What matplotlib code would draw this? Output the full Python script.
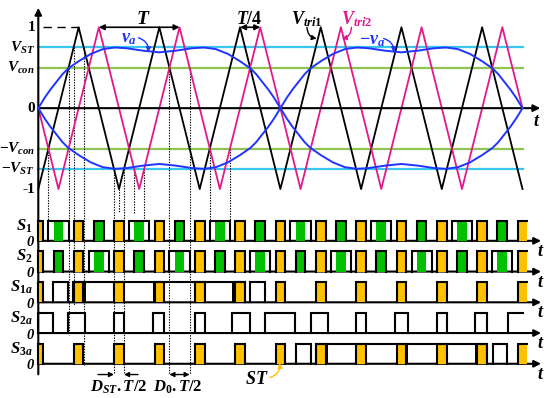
import matplotlib.pyplot as plt
from matplotlib.patches import Rectangle

plt.rcParams['font.family'] = 'Liberation Serif'
plt.rcParams['font.weight'] = 'bold'
plt.rcParams['mathtext.fontset'] = 'custom'
plt.rcParams['mathtext.it'] = 'Liberation Serif:italic:bold'
plt.rcParams['mathtext.rm'] = 'Liberation Serif:bold'
plt.rcParams['mathtext.bf'] = 'Liberation Serif:bold'

# time is in carrier periods T
tri1_t = [0, 0.5, 1, 1.5, 2, 2.5, 3, 3.5, 4, 4.5, 5, 5.5, 6]
tri1_v = [-1, 1, -1, 1, -1, 1, -1, 1, -1, 1, -1, 1, -1]
tri2_t = [0, 0.25, 0.75, 1.25, 1.75, 2.25, 2.75, 3.25, 3.75, 4.25, 4.75, 5.25, 5.75, 6]
tri2_v = [0, -1, 1, -1, 1, -1, 1, -1, 1, -1, 1, -1, 1, 0]

# positive half of v_a
va_t = [0, 0.08, 0.15, 0.3, 0.37, 0.5, 0.65, 0.8, 0.95, 1.1, 1.3, 1.5,
        1.7, 1.9, 2.05, 2.2, 2.35, 2.5, 2.63, 2.7, 2.85, 2.92, 3.0]
va_v = [0, 0.13, 0.23, 0.42, 0.49, 0.58, 0.67, 0.73, 0.75, 0.74, 0.71, 0.69,
        0.71, 0.74, 0.75, 0.73, 0.67, 0.58, 0.49, 0.42, 0.23, 0.13, 0]

V_ST = 0.75
V_CON = 0.5

# pulse patterns (start, end) in T
st_boxes = [(0, 0.06), (0.44, 0.56), (0.94, 1.06), (1.44, 1.56), (1.94, 2.06),
            (2.44, 2.56), (2.94, 3.06), (3.44, 3.56), (3.94, 4.06), (4.44, 4.56),
            (4.94, 5.06), (5.44, 5.56), (5.94, 6.06)]
green_boxes = [(0.19, 0.31), (0.69, 0.81), (1.19, 1.31), (1.69, 1.81), (2.19, 2.31),
               (2.69, 2.81), (3.19, 3.31), (3.69, 3.81), (4.19, 4.31), (4.69, 4.81),
               (5.19, 5.31), (5.69, 5.81)]
s1_high = [(0.125, 0.375), (0.69, 0.81), (1.125, 1.375), (1.69, 1.81), (2.125, 2.375),
           (2.69, 2.81), (3.125, 3.375), (3.69, 3.81), (4.125, 4.375), (4.69, 4.81),
           (5.125, 5.375), (5.69, 5.81)]
s2_high = [(0.19, 0.31), (0.625, 0.875), (1.19, 1.31), (1.625, 1.875), (2.19, 2.31),
           (2.625, 2.875), (3.19, 3.31), (3.625, 3.875), (4.19, 4.31), (4.625, 4.875),
           (5.19, 5.31), (5.625, 5.875)]
s1a_high = [(0.186, 0.372), (0.434, 2.56), (2.625, 2.81)]
s1a_black = [(0.56, 0.59), (1.425, 1.44), (2.405, 2.44)]
s2a_high = [(0, 0.186), (0.372, 0.578), (0.94, 1.06), (1.425, 1.56), (1.94, 2.06),
            (2.405, 2.625), (2.81, 3.186), (3.375, 3.594), (3.94, 4.06), (4.42, 4.585),
            (4.94, 5.06), (5.41, 5.56), (5.82, 6.0)]
s3a_high = [(3.19, 3.375), (3.44, 5.56), (5.63, 5.81)]
s3a_black = [(3.56, 3.594), (4.56, 4.585), (5.41, 5.44)]

# dotted guide lines: time, top level, bottom level
dot_t = [0.125, 0.375, 0.4375, 0.5625, 0.9375, 1.0, 1.0625, 1.1875, 1.3125, 1.625, 1.875, 2.125, 2.375]
dot_top = [-0.5, 0.5, 0.75, 0.75, -0.75, -1.0, -0.75, -0.75, -0.75, 0.5, 0.5, -0.5, -0.5]
dot_bot = [-1.39, -2.80, -2.43, -3.17, -3.29, -1.30, -3.29, -1.30, -1.39, -3.29, -3.29, -1.39, -1.39]

row_names = [r'$S_1$', r'$S_2$', r'$S_{1a}$', r'$S_{2a}$', r'$S_{3a}$']
row_base = [-1.64, -2.02, -2.40, -2.78, -3.16]
H = 0.25

ORANGE = '#ffc000'
GREEN = '#00c000'
MAG = '#e2188c'
BLUE = '#1f35ff'
CYAN = '#38c6ee'
LGREEN = '#8fc550'

fig = plt.figure(figsize=(5.5, 3.98), dpi=100)
ax = fig.add_axes([0, 0, 1, 1])
ax.set_xlim(-0.4746, 6.3407)
ax.set_ylim(-3.583, 1.337)
ax.axis('off')

# reference levels
for lv, c in [(V_ST, CYAN), (-V_ST, CYAN), (V_CON, LGREEN), (-V_CON, LGREEN)]:
    ax.plot([0, 6.0], [lv, lv], color=c, lw=1.6, zorder=1)
ax.plot([0.06, 0.5], [1, 1], color='k', lw=1.0, dashes=(6, 4))

# carriers and references
ax.plot(tri1_t, tri1_v, color='k', lw=1.3, zorder=3)
ax.plot(tri2_t, tri2_v, color=MAG, lw=1.3, zorder=3)
va_full_t = va_t + [3 + t for t in va_t[1:]]
va_full_v = va_v + [-v for v in va_v[1:]]
ax.plot(va_full_t, va_full_v, color=BLUE, lw=1.4, zorder=4)
ax.plot(va_full_t, [-v for v in va_full_v], color=BLUE, lw=1.4, zorder=4)

# dotted guides
for t, a, b in zip(dot_t, dot_top, dot_bot):
    ax.plot([t, t], [a, b], color='k', lw=0.8, ls=(0, (1.2, 1.2)), zorder=2)

# axes with arrows
arrow = dict(arrowstyle='-|>', color='k', lw=1.5, mutation_scale=10, shrinkA=0, shrinkB=0)
ax.annotate('', xy=(0, 1.24), xytext=(0, -3.29), arrowprops=arrow)
ax.annotate('', xy=(6.22, 0), xytext=(0, 0), arrowprops=arrow)
ax.text(6.18, -0.17, r'$t$', fontsize=13, ha='center', va='center')
for base in row_base:
    ax.annotate('', xy=(6.23, base), xytext=(0, base), arrowprops=arrow)
    ax.text(6.22, base - 0.13, r'$t$', fontsize=13, ha='center', va='center')


def draw_row(base, highs, fills, blacks=()):
    for a, b in fills:
        ax.add_patch(Rectangle((a, base), b - a, H, fc=fills[(a, b)], ec='none', zorder=5))
    for a, b in blacks:
        ax.add_patch(Rectangle((a, base), b - a, H, fc='k', ec='none', zorder=6))
    for a, b in highs:
        xs = [a, a, b] + ([b] if b < 6.0 else [])
        ys = [base, base + H, base + H] + ([base] if b < 6.0 else [])
        ax.plot(xs, ys, color='k', lw=1.5, zorder=7, solid_joinstyle='miter')


fills_s1 = {b: ORANGE for b in st_boxes}
fills_s1.update({g: GREEN for g in green_boxes})
draw_row(row_base[0], s1_high + st_boxes, fills_s1)
draw_row(row_base[1], s2_high + st_boxes, fills_s1)
draw_row(row_base[2], s1a_high + st_boxes, {b: ORANGE for b in st_boxes}, s1a_black)
draw_row(row_base[3], s2a_high, {})
draw_row(row_base[4], s3a_high + st_boxes, {b: ORANGE for b in st_boxes}, s3a_black)

# left labels
lx = -0.04
for lv, s in [(1, '1'), (V_ST, r'$V_{ST}$'), (V_CON, r'$V_{con}$'), (0, '0'),
              (-V_CON, r'$\mathrm{-}V_{con}$'), (-V_ST, r'$\mathrm{-}V_{ST}$'), (-1, '-1')]:
    ax.text(lx, lv, s, fontsize=11, ha='right', va='center')
for base, s in zip(row_base, row_names):
    ax.text(-0.07, base + 0.13, s, fontsize=12, ha='right', va='baseline')
    ax.text(-0.05, base - 0.07, '0', fontsize=10.5, style='italic', ha='right', va='baseline')

# period markers
dbl = dict(arrowstyle='<|-|>', color='k', lw=1.2, mutation_scale=8, shrinkA=0, shrinkB=0)
ax.annotate('', xy=(0.75, 1), xytext=(1.75, 1), arrowprops=dbl)
ax.text(1.3, 1.1, r'$T$', fontsize=14, ha='center', va='center')
ax.annotate('', xy=(2.5, 1), xytext=(2.75, 1), arrowprops=dbl)
ax.text(2.62, 1.1, r'$T/4$', fontsize=13, ha='center', va='center')

# curve labels
curv = dict(arrowstyle='-|>', lw=1.0, mutation_scale=7, connectionstyle='arc3,rad=-0.4', shrinkA=0, shrinkB=0)
ax.text(1.13, 0.86, r'$v_a$', fontsize=13, color=BLUE, ha='center', va='center')
ax.annotate('', xy=(1.36, 0.69), xytext=(1.24, 0.87), arrowprops=dict(curv, color=BLUE))
ax.text(3.33, 1.1, r'$V_{tri1}$', fontsize=13, color='k', ha='center', va='center')
ax.annotate('', xy=(3.45, 0.86), xytext=(3.33, 1.0),
            arrowprops=dict(curv, color='k', connectionstyle='arc3,rad=0.4'))
ax.text(3.95, 1.1, r'$V_{tri2}$', fontsize=13, color=MAG, ha='center', va='center')
ax.annotate('', xy=(3.76, 0.86), xytext=(3.88, 1.0), arrowprops=dict(curv, color=MAG))
ax.text(4.14, 0.84, r'$\mathrm{-}v_a$', fontsize=13, color=BLUE, ha='center', va='center')
ax.annotate('', xy=(4.4, 0.69), xytext=(4.28, 0.86), arrowprops=dict(curv, color=BLUE))

# bottom annotations
yb = -3.293
one = dict(arrowstyle='-|>', color='k', lw=1.0, mutation_scale=7, shrinkA=0, shrinkB=0)
ax.annotate('', xy=(0.9375, yb), xytext=(0.74, yb), arrowprops=one)
ax.annotate('', xy=(1.0625, yb), xytext=(1.235, yb), arrowprops=one)
ax.text(1.0, -3.45, r'$D_{ST}.T/2$', fontsize=12, ha='center', va='center')
ax.annotate('', xy=(1.625, yb), xytext=(1.875, yb), arrowprops=dict(dbl, lw=1.0, mutation_scale=7))
ax.text(1.73, -3.45, r'$D_0.T/2$', fontsize=12, ha='center', va='center')
ax.text(2.71, -3.36, r'$ST$', fontsize=13, ha='center', va='center')
ax.annotate('', xy=(2.99, -3.15), xytext=(2.87, -3.33),
            arrowprops=dict(arrowstyle='-|>', color=ORANGE, lw=1.0, mutation_scale=7,
                            connectionstyle='arc3,rad=0.4', shrinkA=0, shrinkB=0))

fig.savefig('out.png', dpi=100)
